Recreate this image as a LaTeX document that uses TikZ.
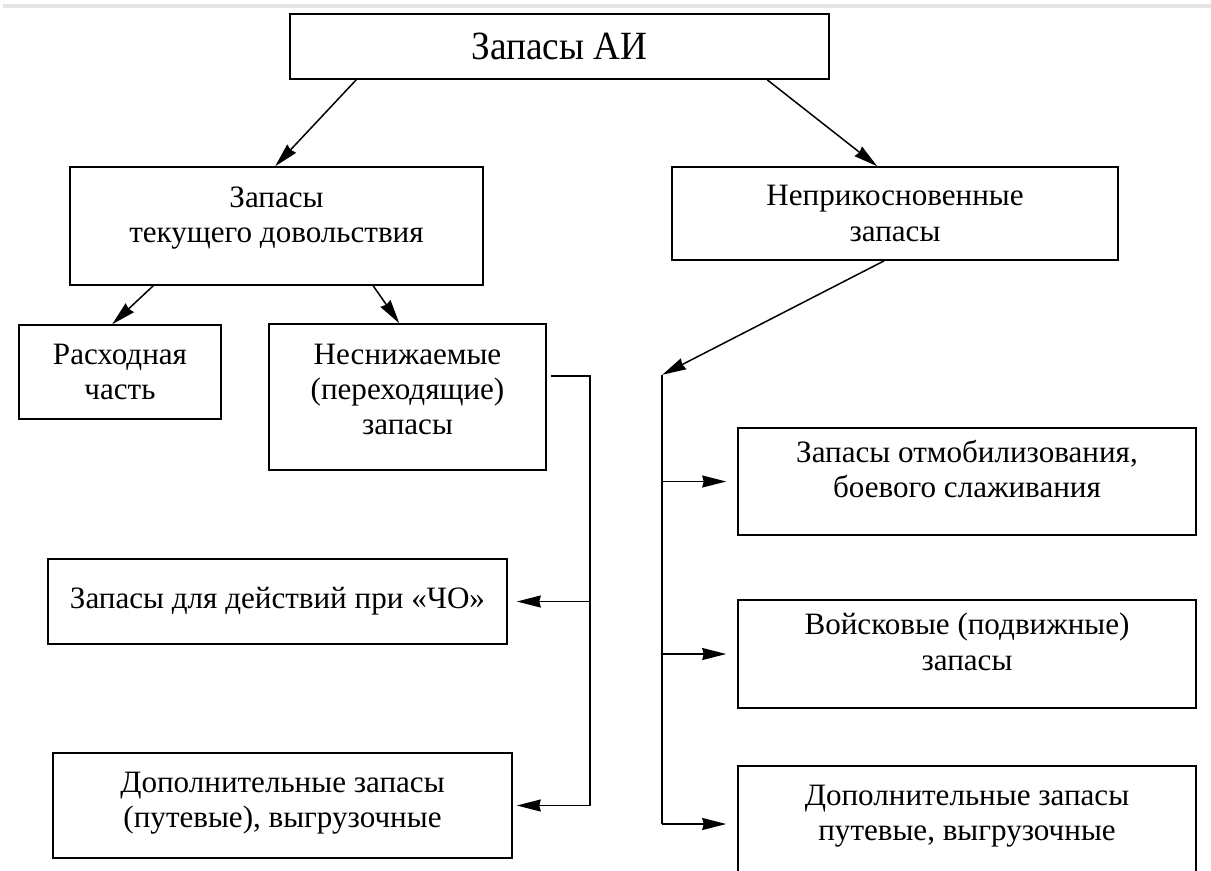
\documentclass[tikz,border=0pt]{standalone}
\usepackage{fontspec}
\setmainfont{Liberation Serif}
\newfontfamily\titlefont[FakeStretch=0.93]{Liberation Serif}
\usetikzlibrary{calc,arrows.meta}

\begin{document}
\begin{tikzpicture}[x=0.02cm,y=-0.02cm,
    box/.style 2 args={draw, line width=0.9pt, minimum width=#1*0.02cm,
        minimum height=#2*0.02cm, inner sep=0pt, align=center,
        font=\fontsize{17.7}{20}\selectfont},
    arr/.style={line width=0.85pt, -{Stealth[length=0.48cm,width=0.24cm,inset=0.03cm]}},
    bus/.style={line width=0.85pt}]
                \useasboundingbox (0,0) rectangle (1211,870);
                \fill[black!10] (3,4) rectangle (1211,8);

                % top level
                \node[box={539}{65}, font=\titlefont\fontsize{22.8}{26}\selectfont] (ai) at (559.5,46.5) {Запасы АИ};
                \node[box={413}{118}, text depth=13pt] (tek) at (276.5,226) {Запасы\\текущего довольствия};
                \node[box={446}{93}] (nz) at (895,213.5) {Неприкосновенные\\запасы};

                \draw[arr] ($(ai.south west)+(67,0)$) -- ($(tek.north west)+(206,0)$);
                \draw[arr] ($(ai.south west)+(478,0)$) -- ($(nz.north west)+(206,0)$);

                % left branch
                \node[box={202}{94}] (rash) at (120,372) {Расходная\\часть};
                \node[box={277}{146}, text depth=9pt] (nesn) at (407.5,397) {Неснижаемые\\(переходящие)\\запасы};
                \node[box={459}{85}] (cho) at (277.5,601.5) {Запасы для действий при «ЧО»};
                \node[box={459}{105}, text depth=6pt] (dopl) at (282.5,805.5) {Дополнительные запасы\\(путевые), выгрузочные};

                \draw[arr] ($(tek.south west)+(84,0)$) -- ($(rash.north west)+(94,0)$);
                \draw[arr] ($(tek.south west)+(304,0)$) -- ($(nesn.north west)+(131,0)$);

                \coordinate (ltop) at ($(nesn.north east)+(43,53)$);
                \draw[bus] ($(nesn.north east)+(4,53)$) -- (ltop) -- (ltop |- dopl.east);
                \draw[arr, shorten >=0.18cm] (ltop |- cho.east) -- (cho.east);
                \draw[arr, shorten >=0.08cm] (ltop |- dopl.east) -- (dopl.east);

                % right branch
                \node[box={458}{107}, text depth=14pt] (otm) at (967,481.5) {Запасы отмобилизования,\\боевого слаживания};
                \node[box={458}{108}, text depth=14pt] (voy) at (967,654) {Войсковые (подвижные)\\запасы};
                \node[box={458}{116}, text depth=13pt] (dopr) at (967,824) {Дополнительные запасы\\путевые, выгрузочные};

                \coordinate (rtop) at ($(nz.south west)+(-9,114)$);
                \draw[arr] ($(nz.south west)+(213,0)$) -- (rtop);
                \draw[bus] (rtop) -- (rtop |- dopr.west);
                \draw[arr, shorten >=0.22cm] (rtop |- otm.west) -- (otm.west);
                \draw[arr, shorten >=0.22cm] (rtop |- voy.west) -- (voy.west);
                \draw[arr, shorten >=0.22cm] (rtop |- dopr.west) -- (dopr.west);

            \end{tikzpicture}
\end{document}
